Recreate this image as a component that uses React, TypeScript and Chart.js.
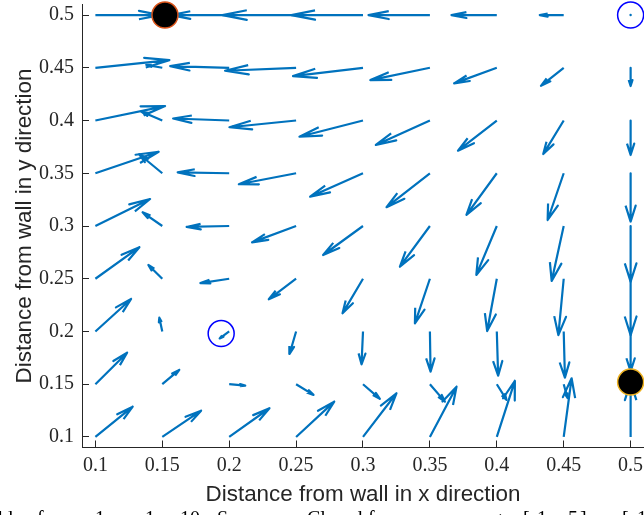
import React, { useEffect, useRef } from "react";
import { Chart, registerables } from "chart.js";

Chart.register(...registerables);

// Sample positions of the vector field (columns left→right, rows top→bottom)
const X_GRID = [0.1, 0.15, 0.2, 0.25, 0.3, 0.35, 0.4, 0.45, 0.5];
const Y_GRID = [0.5, 0.45, 0.4, 0.35, 0.3, 0.25, 0.2, 0.15, 0.1];

// Horizontal component of each vector (row = Y_GRID entry, column = X_GRID entry)
const U = [
  [0.0486, -0.006, -0.0434, -0.055, -0.0535, -0.0459, -0.0339, -0.0179, 0],
  [0.0553, -0.012, -0.0441, -0.0531, -0.0523, -0.0445, -0.0319, -0.017, 0],
  [0.0521, -0.0157, -0.0419, -0.0498, -0.0475, -0.0404, -0.029, -0.0153, 0],
  [0.0473, -0.0172, -0.0385, -0.0428, -0.0395, -0.0324, -0.0227, -0.012, 0],
  [0.0409, -0.0147, -0.0318, -0.0329, -0.0298, -0.0224, -0.0153, -0.009, 0],
  [0.0329, -0.0104, -0.0215, -0.0204, -0.0153, -0.0112, -0.0072, -0.004, 0],
  [0.0267, -0.0022, -0.0071, -0.0049, -0.0011, 0.0005, 0.001, 0.0009, 0],
  [0.0237, 0.0127, 0.012, 0.013, 0.0126, 0.0112, 0.0073, 0.0029, 0],
  [0.0279, 0.029, 0.0301, 0.0285, 0.025, 0.0199, 0.0135, 0.0059, 0],
];

// Vertical component of each vector
const V = [
  [0, 0, 0, 0, 0, 0, 0, 0, 0],
  [0.0073, 0.0028, 0.0016, -0.0028, -0.0079, -0.0117, -0.0148, -0.0171, -0.0173],
  [0.0137, 0.0085, 0.0019, -0.0064, -0.0154, -0.0232, -0.0286, -0.0318, -0.0327],
  [0.0204, 0.018, 0.0009, -0.0104, -0.0222, -0.0322, -0.0395, -0.0443, -0.0458],
  [0.0256, 0.013, -0.0009, -0.0155, -0.0275, -0.0386, -0.0464, -0.0521, -0.0528],
  [0.0299, 0.013, -0.0041, -0.0195, -0.0328, -0.0423, -0.0496, -0.0534, -0.0534],
  [0.0308, 0.0131, -0.0066, -0.0213, -0.0311, -0.0381, -0.0419, -0.0438, -0.0379],
  [0.0299, 0.0136, -0.0013, -0.0101, -0.0139, -0.0165, -0.0149, -0.0133, -0.0028],
  [0.0287, 0.0249, 0.0272, 0.0335, 0.0414, 0.0477, 0.0531, 0.0556, 0.0521],
];

const X_TICKS = [0.1, 0.15, 0.2, 0.25, 0.3, 0.35, 0.4, 0.45, 0.5];
const Y_TICKS = [0.1, 0.15, 0.2, 0.25, 0.3, 0.35, 0.4, 0.45, 0.5];

// Stable points (filled) and unstable points (rings)
const SINK_X = [0.152, 0.5];
const SINK_Y = [0.5, 0.152];
const SINK_EDGE = ["#D95319", "#EDB120"];
const RING_X = [0.5, 0.194];
const RING_Y = [0.5, 0.198];

const X_TITLE = "Distance from wall in x direction";
const Y_TITLE = "Distance from wall in y direction";

// Caption words, typeset with math-style spacing along the bottom edge
const CAPTION_WORDS = [
  "Vector field", "from", "1", "−", "1", "−", "10", "Sensor.", "Closed", "form",
  "over a range", "[", "1", "5", "]", "−", "[", "1", "5", "]",
];
const CAPTION_X = [
  13, 37, 95, 118, 145, 163, 180, 217, 307, 368,
  412, 523, 537, 568, 580, 598, 622, 637, 668, 680,
];

const ARROW_COLOR = "#0072BD";
const AXIS_COLOR = "#262626";
const HEAD_ALPHA = 0.33;
const HEAD_BETA = 0.25;

const fmt = (v: number) => String(Number(v.toFixed(3)));

const captionPlugin = {
  id: "caption",
  afterDraw(chart: any) {
    const ctx = chart.ctx;
    ctx.save();
    ctx.font = '20px "Liberation Serif"';
    ctx.fillStyle = "#000000";
    ctx.textBaseline = "alphabetic";
    CAPTION_WORDS.forEach((w, i) => {
      ctx.textAlign = i === 0 ? "right" : "left";
      ctx.fillText(w, CAPTION_X[i], 524.5);
    });
    ctx.restore();
  },
};

export default function App() {
  const canvasRef = useRef<HTMLCanvasElement | null>(null);

  useEffect(() => {
    if (!canvasRef.current) return;
    const datasets: any[] = [];
    const dots: { x: number; y: number }[] = [];

    Y_GRID.forEach((y, r) => {
      X_GRID.forEach((x, c) => {
        const u = U[r][c];
        const v = V[r][c];
        if (u === 0 && v === 0) {
          dots.push({ x, y });
          return;
        }
        const tx = x + u;
        const ty = y + v;
        datasets.push({
          type: "scatter",
          showLine: true,
          data: [
            { x, y },
            { x: tx, y: ty },
            { x: tx - HEAD_ALPHA * (u + HEAD_BETA * v), y: ty - HEAD_ALPHA * (v - HEAD_BETA * u) },
            { x: tx, y: ty },
            { x: tx - HEAD_ALPHA * (u - HEAD_BETA * v), y: ty - HEAD_ALPHA * (v + HEAD_BETA * u) },
          ],
          borderColor: ARROW_COLOR,
          borderWidth: 2.2,
          borderJoinStyle: "round",
          borderCapStyle: "butt",
          pointRadius: 0,
          tension: 0,
          clip: false,
          order: 3,
        });
      });
    });

    datasets.push({
      type: "scatter",
      data: dots,
      pointRadius: 1.2,
      pointBackgroundColor: ARROW_COLOR,
      pointBorderWidth: 0,
      clip: false,
      order: 3,
    });

    datasets.push({
      type: "scatter",
      data: SINK_X.map((x, i) => ({ x, y: SINK_Y[i] })),
      pointRadius: 13,
      pointBackgroundColor: "#000000",
      pointBorderColor: SINK_EDGE,
      pointBorderWidth: 1.5,
      clip: false,
      order: 1,
    });

    datasets.push({
      type: "scatter",
      data: RING_X.map((x, i) => ({ x, y: RING_Y[i] })),
      pointRadius: 13,
      pointBackgroundColor: "rgba(0,0,0,0)",
      pointBorderColor: "#0000FF",
      pointBorderWidth: 1.5,
      clip: false,
      order: 2,
    });

    const tickFont = { family: "Liberation Serif", size: 20 };
    const titleFont = { family: "Liberation Sans", size: 22.4 };

    const chart = new Chart(canvasRef.current, {
      type: "scatter",
      data: { datasets },
      plugins: [captionPlugin],
      options: {
        animation: false,
        responsive: false,
        maintainAspectRatio: false,
        events: [],
        layout: { autoPadding: false, padding: { top: 4.5, right: 0, bottom: 0, left: 0 } },
        plugins: {
          legend: { display: false },
          tooltip: { enabled: false },
          title: { display: false },
        },
        scales: {
          x: {
            type: "linear",
            min: 0.09,
            max: 0.51,
            afterBuildTicks: (s: any) => {
              s.ticks = X_TICKS.map((value) => ({ value }));
            },
            afterFit: (s: any) => {
              s.height = 67.5;
              s.paddingLeft = 0;
              s.paddingRight = 0;
            },
            grid: {
              drawOnChartArea: false,
              drawTicks: true,
              tickLength: -7,
              color: AXIS_COLOR,
              lineWidth: 1,
            },
            border: { display: true, color: AXIS_COLOR, width: 1 },
            ticks: {
              font: tickFont,
              color: AXIS_COLOR,
              padding: 13,
              maxRotation: 0,
              autoSkip: false,
              callback: (v: any) => fmt(Number(v)),
            },
            title: {
              display: true,
              text: X_TITLE,
              font: titleFont,
              color: AXIS_COLOR,
              padding: { top: 0, bottom: 7 },
            },
          },
          y: {
            type: "linear",
            min: 0.09,
            max: 0.51,
            afterBuildTicks: (s: any) => {
              s.ticks = Y_TICKS.map((value) => ({ value }));
            },
            afterFit: (s: any) => {
              s.width = 82;
              s.paddingTop = 0;
              s.paddingBottom = 0;
            },
            grid: {
              drawOnChartArea: false,
              drawTicks: true,
              tickLength: -7,
              color: AXIS_COLOR,
              lineWidth: 1,
            },
            border: { display: true, color: AXIS_COLOR, width: 1 },
            ticks: {
              font: tickFont,
              color: AXIS_COLOR,
              padding: 15,
              autoSkip: false,
              callback: (v: any) => fmt(Number(v)),
            },
            title: {
              display: true,
              text: Y_TITLE,
              font: titleFont,
              color: AXIS_COLOR,
              padding: { top: 11, bottom: 0 },
            },
          },
        },
      } as any,
    });

    return () => chart.destroy();
  }, []);

  return (
    <div
      style={{
        position: "fixed",
        left: 0,
        top: 0,
        width: 644,
        height: 515,
        background: "#ffffff",
        overflow: "hidden",
      }}
    >
      <canvas ref={canvasRef} width={644} height={515} style={{ width: 644, height: 515, display: "block" }} />
    </div>
  );
}
